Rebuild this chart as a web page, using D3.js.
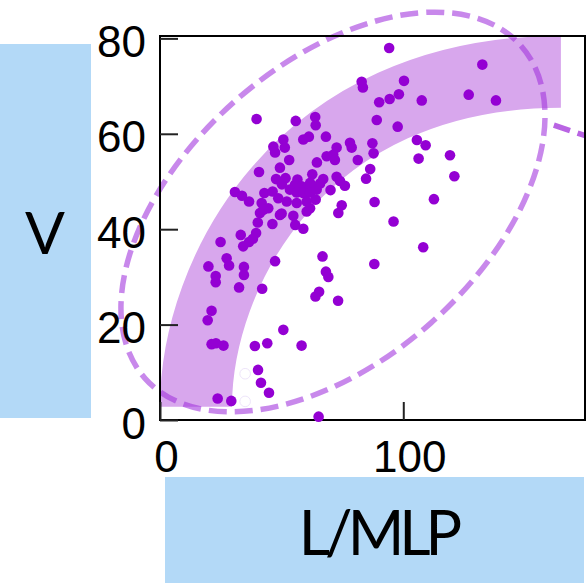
<!DOCTYPE html>
<html>
<head>
<meta charset="utf-8">
<script src="https://cdn.jsdelivr.net/npm/d3@7"></script>
<style>
  body { margin: 0; background: #fff; }
  svg { display: block; }
</style>
</head>
<body>
<script>
// L/MLP (x) vs V (y)
const observations = [
  [94.2,78.0],[132.5,74.5],[82.9,70.9],[83.4,69.7],[100.3,71.1],[98.2,68.3],[94.4,67.3],[90.1,66.6],
  [107.6,67.0],[126.9,68.2],[138.1,67.0],[89.1,62.9],[97.7,61.5],[78.1,58.1],[78.8,57.1],[87.3,58.0],
  [87.8,55.9],[81.3,54.5],[105.6,58.7],[109.2,57.6],[106.3,54.8],[119.2,55.5],[86.4,52.6],[84.7,50.6],
  [121.0,51.1],[88.2,45.7],[112.6,46.3],[96.0,41.6],[108.2,36.2],[88.1,32.7],
  [39.7,63.1],[55.8,62.7],[63.8,63.5],[64.0,61.8],[68.2,59.4],[58.9,58.8],[61.2,59.4],[50.7,58.8],
  [46.6,57.3],[51.3,57.1],[47.3,56.1],[72.6,57.1],[71.2,55.6],[68.5,55.3],[71.9,54.5],[53.1,54.5],
  [64.5,54.0],[49.3,52.9],[40.7,52.0],[62.6,51.5],[72.6,51.0],[74.0,50.1],[76.0,49.1],[67.1,50.5],
  [65.8,49.6],[47.7,50.5],[51.6,50.7],[50.1,49.4],[56.5,50.4],[55.5,49.3],[58.2,49.0],[60.3,48.6],
  [61.7,49.7],[70.1,48.2],[30.8,47.8],[33.7,47.0],[36.6,45.8],[42.9,47.6],[46.3,47.9],[53.4,48.3],
  [56.2,47.7],[58.9,47.6],[61.7,47.7],[64.4,48.3],[48.6,46.5],[52.1,45.8],[56.2,45.5],[60.3,45.8],
  [64.0,46.2],[41.8,45.5],[44.5,44.4],[50.0,43.3],[54.8,42.8],[41.1,43.4],[42.5,44.1],[74.7,45.0],
  [73.3,43.4],[61.7,44.4],[60.3,43.7],[49.3,43.0],[40.2,41.4],[46.2,41.1],[55.6,40.9],[58.9,40.1],
  [33.2,38.8],[39.5,39.2],[38.2,38.0],[36.6,37.3],[34.2,36.4],[24.9,37.3],[66.8,34.3],[27.4,33.9],
  [28.4,32.4],[19.9,32.2],[34.5,32.1],[34.5,30.4],[47.3,33.3],[68.2,31.1],[69.2,30.0],[22.9,30.2],
  [22.9,28.9],[32.5,27.8],[42.0,27.5],[65.4,26.9],[63.9,25.9],[73.2,25.0],[21.2,22.9],[19.6,20.9],
  [50.7,18.9],[21.2,15.9],[23.0,16.1],[26.1,15.6],[39.0,15.5],[44.1,16.1],[58.2,15.6],[40.3,10.5],
  [41.5,7.8],[44.8,5.7],[23.7,4.5],[29.3,4.0],[65.2,0.7]
]
const hollowPoints = [[35.0,9.7],[35.0,3.9]]

const xTicks = [0, 100]
const yTicks = [0, 20, 40, 60, 80]
const xDomain = [0, 174.7]
const yDomain = [0, 80.5]

// annotation shapes, in data units
const bandCurve = [[14.8,2.8],[14.8,30.4],[56.7,73.0],[164.8,73.0]]
const ellipseCentre = [71.1, 43.6]
const sideStroke = [[161.9,61.8],[176,59.4]]

const xLabel = 'L/MLP'
const yLabel = 'V'

const width = 586, height = 583
const margin = {left: 160, right: 1, top: 36, bottom: 163}

const svg = d3.select('body').append('svg')
  .attr('width', width).attr('height', height)

const x = d3.scaleLinear().domain(xDomain).range([margin.left, width - margin.right])
const y = d3.scaleLinear().domain(yDomain).range([height - margin.bottom, margin.top])

// label boxes
svg.append('rect').attr('x', 0).attr('y', 44).attr('width', 91).attr('height', 374).attr('fill', '#b3d9f7')
svg.append('text').attr('x', 45).attr('y', 254)
  .attr('text-anchor', 'middle').attr('font-family', 'Lato, sans-serif').attr('font-size', 59)
  .text(yLabel)

svg.append('rect').attr('x', 165).attr('y', 477).attr('width', 419).attr('height', 106).attr('fill', '#b3d9f7')
svg.append('text').attr('x', 378).attr('y', 555)
  .attr('text-anchor', 'middle').attr('font-family', 'Lato, sans-serif').attr('font-size', 61)
  .attr('letter-spacing', -5)
  .text(xLabel)

// the thick curved band
const p = bandCurve.map(d => [x(d[0]), y(d[1])])
const band = d3.path()
band.moveTo(p[0][0], p[0][1])
band.bezierCurveTo(p[1][0], p[1][1], p[2][0], p[2][1], p[3][0], p[3][1])
svg.append('path')
  .attr('d', band.toString())
  .attr('fill', 'none')
  .attr('stroke', '#d8a7ed')
  .attr('stroke-width', 72)
  .attr('stroke-linecap', 'butt')

// dashed ellipse
const cx = x(ellipseCentre[0]), cy = y(ellipseCentre[1])
svg.append('ellipse')
  .attr('cx', cx).attr('cy', cy).attr('rx', 251).attr('ry', 148)
  .attr('transform', `rotate(-41.5,${cx},${cy})`)
  .attr('fill', 'none')
  .attr('stroke', 'rgb(160,50,220)')
  .attr('stroke-opacity', 0.58)
  .attr('stroke-width', 5.5)
  .attr('stroke-dasharray', '18 8')

svg.append('line')
  .attr('x1', x(sideStroke[0][0])).attr('y1', y(sideStroke[0][1]))
  .attr('x2', x(sideStroke[1][0])).attr('y2', y(sideStroke[1][1]))
  .attr('stroke', '#b964e3')
  .attr('stroke-width', 5.5)
  .attr('stroke-dasharray', '17 8')

// frame
svg.append('rect')
  .attr('x', margin.left).attr('y', margin.top)
  .attr('width', width - margin.right - margin.left)
  .attr('height', height - margin.bottom - margin.top)
  .attr('fill', 'none').attr('stroke', '#000').attr('stroke-width', 2)

const yAxis = d3.axisLeft(y).tickValues(yTicks).tickSizeInner(-18).tickSizeOuter(0).tickPadding(14)
const xAxis = d3.axisBottom(x).tickValues(xTicks).tickSizeInner(-18).tickSizeOuter(0).tickPadding(0)

const gy = svg.append('g')
  .attr('transform', `translate(${margin.left},0)`)
  .call(yAxis)
gy.select('.domain').remove()
gy.selectAll('.tick line').attr('stroke', '#222').attr('stroke-width', 2)
gy.selectAll('.tick text')
  .attr('font-family', '"Liberation Sans", Arial, sans-serif').attr('font-size', 44)
  .attr('fill', '#000').attr('dy', '0.41em')

const gx = svg.append('g')
  .attr('transform', `translate(0,${height - margin.bottom})`)
  .call(xAxis)
gx.select('.domain').remove()
gx.selectAll('.tick line').attr('stroke', '#222').attr('stroke-width', 2)
gx.selectAll('.tick text')
  .attr('font-family', '"Liberation Sans", Arial, sans-serif').attr('font-size', 44)
  .attr('fill', '#000').attr('y', 51.5).attr('dy', 0).attr('dx', 6)

// points
svg.append('g').selectAll('circle')
  .data(hollowPoints)
  .enter().append('circle')
  .attr('cx', d => x(d[0]))
  .attr('cy', d => y(d[1]))
  .attr('r', 5.3)
  .attr('fill', '#fff')
  .attr('stroke', '#e8ddf7')
  .attr('stroke-width', 0.8)

svg.append('g').selectAll('circle')
  .data(observations)
  .enter().append('circle')
  .attr('cx', d => x(d[0]))
  .attr('cy', d => y(d[1]))
  .attr('r', 5.3)
  .attr('fill', '#9400d3')
</script>
</body>
</html>
